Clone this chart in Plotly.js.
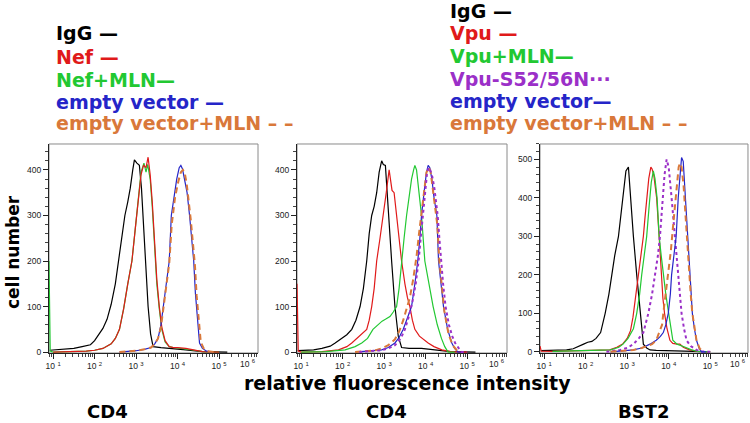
<!DOCTYPE html>
<html><head><meta charset="utf-8">
<script src="https://cdn.plot.ly/plotly-3.0.1.min.js"></script>
<style>html,body{margin:0;padding:0;background:#fff}#c{width:750px;height:423px}</style>
</head><body><div id="c"></div>
<script>
// ---- Panel 1: CD4 (Nef) ; x = log10 fluorescence, y = cell number ----
const p1_igg_x = [0.92,1.1,1.3,1.5,1.7,1.9,2.0,2.1,2.2,2.3,2.4,2.5,2.58,2.65,2.73,2.8,2.86,2.92,2.96,3.02,3.08,3.13,3.17,3.22,3.29,3.35,3.41,3.6,3.9,4.2,4.6,5.2];
const p1_igg_y = [4,5,6,8,12,16,25,38,52,72,105,150,200,255,300,330,360,400,422,415,410,360,300,200,100,40,12,10,8,5,1,0];
const p1_nef_x = [1.0,1.5,1.8,2.0,2.2,2.4,2.5,2.6,2.7,2.8,2.9,2.98,3.05,3.12,3.18,3.24,3.29,3.34,3.39,3.44,3.5,3.56,3.62,3.7,3.8,3.9,4.0,4.2,4.4,4.6,5.0];
const p1_nef_y = [0,1,2,4,8,18,30,50,95,150,200,270,330,390,410,405,428,390,330,250,160,100,55,25,12,10,10,8,4,1,0];
const p1_nefmln_x = [0.9,0.93,1.0,1.5,1.8,2.0,2.2,2.4,2.5,2.6,2.7,2.8,2.9,2.98,3.05,3.12,3.19,3.24,3.28,3.34,3.39,3.44,3.5,3.56,3.62,3.7,3.8,3.9,4.0,4.2,4.4,4.6,5.0];
const p1_nefmln_y = [200,2,0,1,2,4,8,18,30,50,95,150,200,270,330,395,415,395,412,380,320,240,150,95,50,22,12,10,9,7,4,1,0];
const p1_ev_x = [2.6,2.8,3.0,3.2,3.36,3.45,3.53,3.6,3.66,3.72,3.8,3.85,3.92,3.98,4.04,4.08,4.12,4.17,4.23,4.29,4.34,4.39,4.43,4.47,4.53,4.6,4.7,4.85];
const p1_ev_y = [0,1,3,6,10,18,30,60,100,150,200,300,350,380,405,410,402,380,350,300,250,200,130,90,20,8,2,0];
const p1_evmln_x = [2.6,2.8,3.0,3.2,3.36,3.45,3.53,3.6,3.66,3.72,3.8,3.86,3.94,4.02,4.08,4.13,4.17,4.22,4.27,4.32,4.37,4.42,4.46,4.5,4.56,4.63,4.73,4.88];
const p1_evmln_y = [0,1,3,6,10,18,30,55,95,140,195,280,340,375,395,400,395,370,335,290,240,190,125,80,22,8,2,0];

// ---- Panel 2: CD4 (Vpu) ----
const p2_igg_x = [0.92,1.1,1.3,1.5,1.7,1.82,1.95,2.1,2.22,2.32,2.42,2.5,2.58,2.64,2.70,2.76,2.82,2.88,2.94,2.98,3.03,3.1,3.18,3.26,3.34,3.42,3.6,3.9,4.2,4.6,5.2];
const p2_igg_y = [3,4,5,8,13,20,28,38,50,70,100,140,200,260,300,320,350,395,420,412,410,300,200,100,35,10,8,8,5,1,0];
const p2_vpu_x = [0.9,0.93,1.0,1.5,1.9,2.1,2.22,2.4,2.58,2.64,2.70,2.76,2.82,2.9,2.98,3.05,3.12,3.16,3.19,3.24,3.30,3.36,3.42,3.5,3.56,3.62,3.68,3.74,3.85,4.06,4.2,4.39,4.6,5.0];
const p2_vpu_y = [150,2,0,1,5,12,20,35,50,70,100,140,200,250,300,350,400,370,355,350,300,250,200,150,120,100,70,50,35,20,12,5,1,0];
const p2_vpumln_x = [1.0,1.6,2.06,2.3,2.46,2.6,2.73,2.85,2.95,3.03,3.14,3.22,3.30,3.36,3.42,3.48,3.54,3.58,3.62,3.66,3.71,3.74,3.78,3.84,3.90,3.98,4.08,4.18,4.28,4.38,4.46,4.54,4.7];
const p2_vpumln_y = [0,1,5,12,20,30,50,60,68,72,78,88,100,140,200,250,300,330,350,380,400,410,400,350,300,200,150,100,60,30,12,0,0];
const p2_s5256n_x = [2.4,2.7,2.94,3.1,3.26,3.4,3.5,3.6,3.68,3.76,3.83,3.88,3.93,3.98,4.03,4.07,4.11,4.16,4.21,4.25,4.29,4.33,4.37,4.42,4.48,4.56,4.64,4.71,4.8,4.87,5.0];
const p2_s5256n_y = [0,2,4,8,15,30,50,80,110,150,200,250,300,350,390,405,400,385,360,330,300,250,200,150,100,60,35,20,8,0,0];
const p2_ev_x = [2.3,2.6,2.8,2.94,3.1,3.26,3.36,3.46,3.56,3.66,3.74,3.81,3.86,3.90,3.96,4.02,4.06,4.1,4.15,4.2,4.27,4.31,4.37,4.43,4.53,4.63,4.7,4.78,4.9];
const p2_ev_y = [0,2,3,5,10,20,32,50,75,100,150,200,250,300,350,395,410,405,380,340,300,200,150,100,50,20,8,0,0];
const p2_evmln_x = [2.3,2.6,2.8,2.94,3.1,3.26,3.36,3.46,3.56,3.62,3.70,3.78,3.84,3.90,3.96,4.02,4.08,4.12,4.17,4.22,4.28,4.33,4.39,4.45,4.55,4.65,4.75,4.85];
const p2_evmln_y = [0,2,4,8,15,28,45,70,100,120,160,210,260,310,360,395,405,395,360,320,280,200,140,90,40,15,4,0];

// ---- Panel 3: BST2 ----
const p3_igg_x = [0.92,1.1,1.3,1.54,1.7,1.85,1.95,2.05,2.15,2.25,2.36,2.47,2.56,2.63,2.7,2.79,2.86,2.92,2.97,3.03,3.08,3.15,3.23,3.31,3.39,3.47,3.55,3.7,3.9,4.1,4.3,4.6,5.0];
const p3_igg_y = [3,4,4,5,8,14,20,25,27,35,50,100,150,200,250,300,360,420,470,480,400,300,200,100,20,10,5,4,3,3,2,1,0];
const p3_vpu_x = [0.9,0.93,1.2,1.8,2.3,2.58,2.75,2.89,3.0,3.08,3.14,3.2,3.27,3.33,3.39,3.43,3.47,3.52,3.57,3.6,3.64,3.68,3.71,3.77,3.82,3.86,3.90,3.96,4.03,4.1,4.2,4.27,4.35,4.5,4.7,5.0];
const p3_vpu_y = [15,2,1,2,3,5,12,20,35,55,90,140,200,250,300,350,400,450,480,475,460,430,400,300,200,140,100,60,30,22,20,20,12,5,1,0];
const p3_vpumln_x = [1.2,1.8,2.3,2.6,2.8,2.9,3.02,3.1,3.15,3.23,3.3,3.35,3.41,3.47,3.53,3.58,3.63,3.67,3.72,3.77,3.82,3.87,3.93,4.0,4.05,4.1,4.2,4.3,4.4,4.55,4.7,5.0];
const p3_vpumln_y = [1,2,3,5,12,20,35,50,60,100,150,200,250,300,380,440,470,450,400,300,250,200,150,100,60,30,20,15,12,5,1,0];
const p3_s5256n_x = [2.5,2.83,3.0,3.15,3.28,3.39,3.51,3.6,3.67,3.74,3.79,3.85,3.9,3.95,4.0,4.07,4.11,4.15,4.19,4.23,4.27,4.31,4.37,4.43,4.53,4.67,4.8,5.0];
const p3_s5256n_y = [0,5,10,20,35,50,100,150,200,250,300,400,460,500,480,400,350,300,250,200,150,100,60,30,15,5,1,0];
const p3_ev_x = [2.6,2.9,3.15,3.35,3.55,3.7,3.8,3.87,3.93,3.99,4.04,4.07,4.13,4.18,4.23,4.28,4.31,4.35,4.40,4.46,4.52,4.57,4.62,4.67,4.73,4.79,4.9];
const p3_ev_y = [0,2,5,10,20,30,40,50,70,100,150,200,250,300,400,470,505,495,400,300,200,100,60,30,10,0,0];
const p3_evmln_x = [2.6,2.9,3.15,3.35,3.6,3.7,3.78,3.84,3.87,3.93,3.99,4.05,4.1,4.15,4.2,4.24,4.27,4.31,4.36,4.4,4.43,4.48,4.53,4.57,4.62,4.67,4.75,4.85];
const p3_evmln_y = [0,2,5,10,20,30,50,70,100,150,200,260,320,380,440,480,490,480,430,360,300,220,150,100,60,30,8,0];

// ---- labels ----
const xTickVals = [1e1,1e2,1e3,1e4,1e5];
const xTickText = ["10 <sup>1</sup>","10 <sup>2</sup>","10 <sup>3</sup>","10 <sup>4</sup>","10 <sup>5</sup>"];
const xEndLabel = "10 <sup>6</sup>";
const panelLabels = ["CD4","CD4","BST2"];
const legendLeft = ["IgG","Nef","Nef+MLN","empty vector","empty vector+MLN"];
const legendRight = ["IgG","Vpu","Vpu+MLN","Vpu-S52/56N","empty vector","empty vector+MLN"];

const C = {igg:'#000000', red:'#e01a1a', green:'#22c832', purple:'#9b30c8', blue:'#2525c8', orange:'#d9783a'};
const toLin = a => a.map(v => Math.pow(10, v));

function tr(x, y, color, ax, dash, w) {
  return {x: toLin(x), y: y, type:'scatter', mode:'lines', xaxis:'x'+ax, yaxis:'y'+ax,
    line:{color:color, width:w||1.2, dash:dash||'solid'}, hoverinfo:'skip', showlegend:false};
}
const data = [
  tr(p1_igg_x,p1_igg_y,C.igg,''), tr(p1_nefmln_x,p1_nefmln_y,C.green,''), tr(p1_nef_x,p1_nef_y,C.red,''),
  tr(p1_ev_x,p1_ev_y,C.blue,''), tr(p1_evmln_x,p1_evmln_y,C.orange,'','6px,4px',2),
  tr(p2_igg_x,p2_igg_y,C.igg,'2'), tr(p2_vpu_x,p2_vpu_y,C.red,'2'), tr(p2_vpumln_x,p2_vpumln_y,C.green,'2'),
  tr(p2_ev_x,p2_ev_y,C.blue,'2'), tr(p2_evmln_x,p2_evmln_y,C.orange,'2','6px,4px',2), tr(p2_s5256n_x,p2_s5256n_y,C.purple,'2','dot',2),
  tr(p3_igg_x,p3_igg_y,C.igg,'3'), tr(p3_vpu_x,p3_vpu_y,C.red,'3'), tr(p3_vpumln_x,p3_vpumln_y,C.green,'3'),
  tr(p3_s5256n_x,p3_s5256n_y,C.purple,'3','dot',2), tr(p3_ev_x,p3_ev_y,C.blue,'3'), tr(p3_evmln_x,p3_evmln_y,C.orange,'3','6px,4px',2)
];

const tickFont = {family:'Liberation Sans, Arial, sans-serif', size:8.5, color:'#222'};
function xax(dom, rng) {
  return {type:'log', domain:dom, range:rng, tickvals:xTickVals, ticktext:xTickText, ticks:'outside', ticklen:5,
    tickcolor:'#222', showline:true, linecolor:'#222', linewidth:1, showgrid:false, zeroline:false, tickfont:tickFont,
    minor:{ticks:'outside', ticklen:3, tickcolor:'#444', dtick:'D1', showgrid:false}, fixedrange:true};
}
function yax(rng, tv) {
  return {domain:[0.1655,0.6596], range:rng, tickvals:tv, ticks:'outside', ticklen:5, tickcolor:'#222',
    showline:true, linecolor:'#222', linewidth:1, showgrid:false, zeroline:false, tickfont:tickFont,
    minor:{ticks:'outside', ticklen:3, dtick:20, tickcolor:'#444'}, fixedrange:true};
}
const legFont = (c) => ({family:'DejaVu Sans, sans-serif', size:19, color:c});
const annotations = [];
const lc = [C.igg, C.red, C.green, C.blue, C.orange];
const lsuf = [' —',' —','—',' —',' – –'];
const ly = [33,57,80,102,123];
legendLeft.forEach((t,i)=>annotations.push({text:'<b>'+t+lsuf[i]+'</b>', xref:'paper', yref:'paper', x:54/750, y:1-ly[i]/423,
  xanchor:'left', yanchor:'middle', showarrow:false, font:legFont(lc[i])}));
const rc = [C.igg, C.red, C.green, C.purple, C.blue, C.orange];
const rsuf = [' —',' —','—','···','—',' – –'];
const ry = [11,33,56,79,101,123];
legendRight.forEach((t,i)=>annotations.push({text:'<b>'+t+rsuf[i]+'</b>', xref:'paper', yref:'paper', x:448/750, y:1-ry[i]/423,
  xanchor:'left', yanchor:'middle', showarrow:false, font:legFont(rc[i])}));
const pcx = [108,386,644];
panelLabels.forEach((t,i)=>annotations.push({text:'<b>'+t+'</b>', xref:'paper', yref:'paper', x:pcx[i]/750, y:1-411/423,
  xanchor:'center', yanchor:'middle', showarrow:false, font:{family:'DejaVu Sans, sans-serif', size:18, color:'#000'}}));
['','2','3'].forEach(a => annotations.push({text:xEndLabel, xref:'x'+a+' domain', yref:'paper', x:1, y:1-363/423,
  xanchor:'right', yanchor:'middle', showarrow:false, font:tickFont}));
annotations.push({text:'<b>relative fluorescence intensity</b>', xref:'paper', yref:'paper', x:407/750, y:1-383/423,
  xanchor:'center', yanchor:'middle', showarrow:false, font:{family:'DejaVu Sans, sans-serif', size:19, color:'#000'}});
annotations.push({text:'<b>cell number</b>', xref:'paper', yref:'paper', x:13/750, y:1-252/423, textangle:-90,
  xanchor:'center', yanchor:'middle', showarrow:false, font:{family:'DejaVu Sans, sans-serif', size:17, color:'#000'}});

const shapes = ['','2','3'].map(a => ({type:'rect', xref:'x'+a+' domain', yref:'y'+a+' domain', x0:0, x1:1, y0:0, y1:1,
  line:{color:'#8a8a8a', width:1}, layer:'below'}));

const layout = {
  width:750, height:423, margin:{l:0,r:0,t:0,b:0}, paper_bgcolor:'#fff', plot_bgcolor:'#fff', showlegend:false,
  xaxis: Object.assign(xax([0.0653,0.344],[0.9,5.94]), {anchor:'y'}),
  xaxis2: Object.assign(xax([0.396,0.676],[0.9,5.96]), {anchor:'y2'}),
  xaxis3: Object.assign(xax([0.72,0.9973],[0.9,5.91]), {anchor:'y3'}),
  yaxis: Object.assign(yax([-2,457],[0,100,200,300,400]), {anchor:'x'}),
  yaxis2: Object.assign(yax([-2,457],[0,100,200,300,400]), {anchor:'x2'}),
  yaxis3: Object.assign(yax([-3,540],[0,100,200,300,400,500]), {anchor:'x3'}),
  annotations: annotations, shapes: shapes
};
Plotly.newPlot('c', data, layout, {staticPlot:true, displayModeBar:false});
</script></body></html>
